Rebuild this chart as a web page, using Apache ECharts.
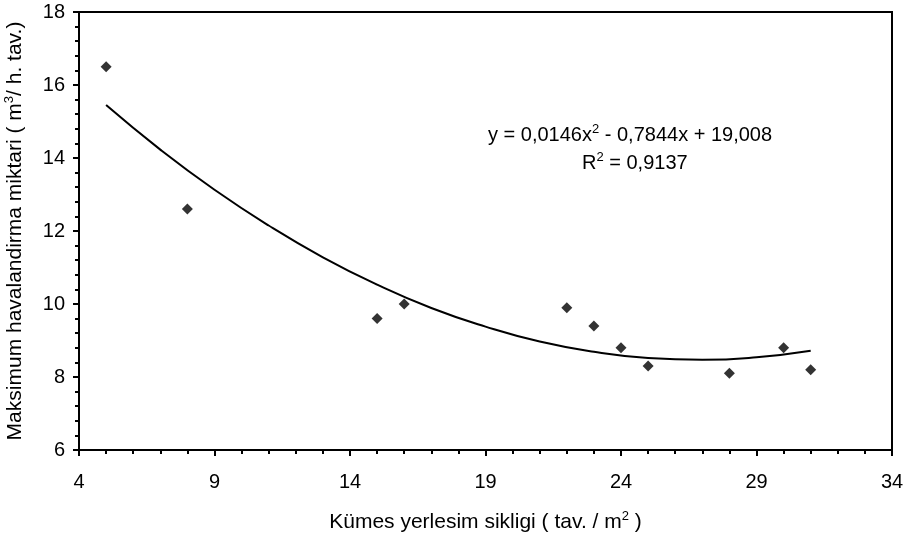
<!DOCTYPE html>
<html>
<head>
<meta charset="utf-8">
<script src="https://cdn.jsdelivr.net/npm/echarts@6/dist/echarts.min.js"></script>
<style>
  html, body { margin: 0; padding: 0; background: #fff; }
  #chart { width: 903px; height: 541px; }
</style>
</head>
<body>
<div id="chart"></div>
<script>
// measured points (density, max ventilation)
const densityX = [5, 8, 15, 16, 22, 23, 24, 25, 28, 30, 31];
const ventY = [16.5, 12.6, 9.6, 10.0, 9.9, 9.4, 8.8, 8.3, 8.1, 8.8, 8.2];

// trend line
const trendX = [5, 7, 9, 11, 13, 15, 17, 19, 21, 23, 25, 27, 29, 31];
const trendY = [15.45, 14.23, 13.13, 12.15, 11.28, 10.53, 9.89, 9.38, 8.97, 8.69, 8.52, 8.47, 8.54, 8.72];

const xTicks = { min: 4, max: 34, step: 5 };
const yTicks = { min: 6, max: 18, step: 2 };

const FONT = "'Liberation Sans', Arial, sans-serif";

const chart = echarts.init(document.getElementById("chart"));

const sup = { fontSize: 13, fontFamily: FONT, color: "#000", verticalAlign: "top", lineHeight: 24 };
const txt = { fontSize: 20, fontFamily: FONT, color: "#000", lineHeight: 24 };
const nameTxt = { fontSize: 21, fontFamily: FONT, color: "#000", lineHeight: 25 };
const nameSup = { fontSize: 13, fontFamily: FONT, color: "#000", verticalAlign: "top", lineHeight: 25 };

const option = {
  animation: false,
  backgroundColor: "#fff",
  grid: {
    left: 79,
    top: 12,
    right: 11,
    bottom: 91,
    containLabel: false,
    outerBoundsMode: "none",
    show: true,
    borderColor: "#000",
    borderWidth: 2,
    backgroundColor: "transparent"
  },
  xAxis: {
    type: "value",
    min: xTicks.min,
    max: xTicks.max,
    interval: xTicks.step,
    name: "{t|Kümes yerlesim sikligi ( tav. / m}{s|2}{t| )}",
    nameLocation: "middle",
    nameGap: 60,
    nameTextStyle: { rich: { t: nameTxt, s: nameSup } },
    axisLine: { lineStyle: { color: "#000", width: 2 } },
    axisTick: { length: 6, lineStyle: { color: "#000", width: 2 } },
    minorTick: { show: true, splitNumber: 5, length: 4, lineStyle: { color: "#000", width: 2 } },
    splitLine: { show: false },
    axisLabel: { color: "#000", fontSize: 20, fontFamily: FONT, margin: 22 }
  },
  yAxis: {
    type: "value",
    min: yTicks.min,
    max: yTicks.max,
    interval: yTicks.step,
    name: "{t|Maksimum havalandirma miktari ( m}{s|3}{t|/ h. tav.)}",
    nameLocation: "middle",
    nameGap: 51,
    nameTextStyle: { rich: { t: nameTxt, s: nameSup } },
    axisLine: { show: true, lineStyle: { color: "#000", width: 2 } },
    axisTick: { show: true, length: 6, lineStyle: { color: "#000", width: 2 } },
    minorTick: { show: true, splitNumber: 5, length: 4, lineStyle: { color: "#000", width: 2 } },
    splitLine: { show: false },
    axisLabel: { color: "#000", fontSize: 20, fontFamily: FONT, margin: 14 }
  },
  graphic: [
    {
      type: "text",
      left: 488,
      top: 123,
      style: {
        text: "{t|y = 0,0146x}{s|2}{t| - 0,7844x + 19,008}",
        rich: { t: txt, s: sup }
      }
    },
    {
      type: "text",
      left: 582,
      top: 151,
      style: {
        text: "{t|R}{s|2}{t| = 0,9137}",
        rich: { t: txt, s: sup }
      }
    }
  ],
  series: [
    {
      type: "line",
      data: trendX.map((x, i) => [x, trendY[i]]),
      smooth: true,
      showSymbol: false,
      lineStyle: { color: "#000", width: 2 },
      z: 2
    },
    {
      type: "scatter",
      data: densityX.map((x, i) => [x, ventY[i]]),
      symbol: "diamond",
      symbolSize: 11,
      itemStyle: { color: "#000" },
      z: 3
    }
  ]
};

chart.setOption(option);
</script>
</body>
</html>
